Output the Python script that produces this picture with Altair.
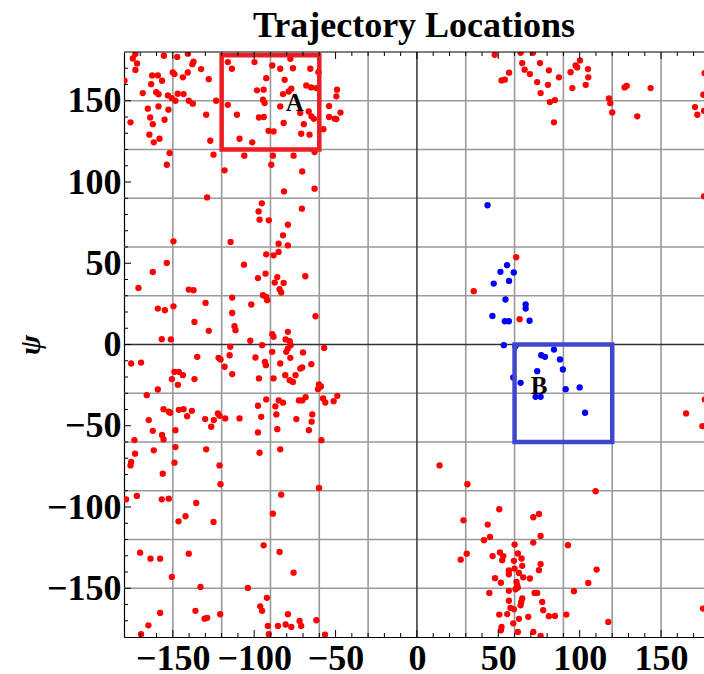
import altair as alt
import pandas as pd

# ---------------- data (phi, psi in degrees) ----------------
red_x = [
    -173, -174.6, -172, -173, -155.5, -147.3, -140.8, -137.3, -138, -132.6, -150, -149, -140.8, -143.8,
    -162.7, -159.2, -156.6, -163.3, -127.9, -179.7, -168.5, -160.2, -158.8, -153, -150.6, -148.4, -147,
    -143.4, -140.2, -137.7, -123.4, -165.4, -158.8, -152.7, -163.9, -162.3, -155.1, -176, -129.5, -164.4,
    -161.7, -158.2, -127, -152, -153.7, -125, -128.9, -149.6,
    -116.2, -113.7, -99.8, -88.9, -84, -77.8, -76.2, -65.5, -92.6, -81.3, -77.2, -78.8, -82.3, -94.2,
    -98.3, -116.2, -93.6, -94.6, -84, -68, -65, -61.8, -71.7, -66.5, -64.8, -69.5, -63.3, -110.6, -97.1,
    -94.1, -81.9, -91.2, -88.1, -71.1, -66, -109, -101.2, -106.1, -88.5, -75.8, -62.9, -89.5, -70.5,
    -118.2, -81.7, -62.9, -95.3, -97.3, -96.7, -91, -70.7, -79.3, -82.3, -114.5,
    -60.5, -49.1, -49.5, -54, -47, -54, -50.5, -49.5, -57.5, 47.8, 52, 54, 56.6,
    63.7, 71.3, 64.7, 66.2, 69.4, 75.6, 81.1, 73.9, 80.5, 76, 81.7, 84.8, 84.2, 87.3, 100.2, 97.5, 98.5,
    94.4, 105.1, 105.3, 103.7, 95.5, 118, 118.8, 120, 127.6, 128.9, 143.6, 135.4, 170.9, 172.3, 176,
    176.4, 176.8, 176.4,
    -85, -79.3, -92.6, -88.1, -85, -153.7, -162.3, -106.3, -97.7, -93, -85.8, -87.4, -81.9, -68.6, -84.4,
    -83.4, -171.1, -140.2, -137.3, -94.6, -92.6, -92, -113.5, -129.9, -159.2, -154.9, -149.6, -101.8,
    -113.5, -136.7, -112.1, -111.5, -127.9, -62.3, -88.9, -88.1, -79.3, -80.7, -78.2, -77.6, -102.4,
    -156.8, -151.2, -95.1, -114.7, -115.1, -79.3, -80.3, -88.9, -70, -135, -121.9, -120.7, -99.2, -77.8,
    -175.6, -169.5, -118.2, -93.4, -92.8, -84, -70.5, -71.7, -64.9, -113.5, -149, -146.3, -143.8, -150.6,
    -146.9, -136.7, -97.1, -88.1, -80.9, -74.6, -78.2, -76.2, -60.2, -60.8, -166, -159.2, -92.6, -87,
    -84.9, -82.3, -72.5, -70.5, -68.4, -97.7, -155.7, -152.5, -151.6, -146.3, -143.4, -138.3, -141.2,
    -122.3, -121.3, -130.1, -124.8, -126.4, -117.8, -109, -95.7, -86.4, -74.1, -64.3, -64.7, -164.8,
    -162.3, -156.6, -148.4, -97.7, -85.8, -66.4, -173.6, -155.7,
    -57, -59, -57.7, -56.3, -51.2, -48.9, -58.7, 34.9,
    61, 63.1, 165.4, 176.9, 175.4,
    -173.2, -175.6, -176, -161.7, -156.2, -148.4, -149, -129.5, -121.3, -120.7, -96.7, -84, -60.2, -178.7,
    -172.1, -156.8, -152.5, -135.6, -142.2, -146.5, -125, -83.4, -88.5, -170.1, -163.7, -157.8, -140.2,
    -150.6, -133, -94.2, -84.4, -75.8, -103.9, -92.2, -96.3, -95.1, -157.8, -136.1, -130.5, -128.9,
    -120.9, -165, -169.5, -91.6, -91, -85.4, -80.7, -77.2, -79.3, -72.1, -71.1, -61.8,
    13.9, 31, -56.5, 50.6, 28.6, 43.5, 44.9, 41.2, 30.6, 26.9, 46.5, 51, 53.1, 52.4, 56.5, 56.5, 48, 51.6,
    56.5, 44.5, 56.5, 50.6, 55.5, 52, 51.6,
    109.8, 71.5, 75, 76, 71.5, 60, 92.8, 62, 59.6, 64.3, 64.7, 60, 62.7, 65.3, 69.4, 61.2, 61.6, 62, 60.6,
    76, 75, 110.4, 105.3, 96.5, 72.3, 73.9, 64.7, 64.1, 63.7, 57.5, 59.6, 77, 77.6, 68.4, 81.1, 84.8,
    91.8, 62.7, 59.2, 62, 71.5, 76, 117.6, 175.8,
]
red_y = [
    178.7, 176, 173, 169, 177.7, 177, 179, 174, 172.5, 169.5, 167.4, 166.4, 167.4, 164.4,
    165.6, 165.6, 162.3, 160.2, 163.3, 162.3, 154.7, 155.3, 154, 153.3, 151.6, 150, 154.3,
    154.1, 150, 148.2, 150, 145.1, 146.5, 144.5, 139.7, 135.6, 138.3, 136.7, 141.4, 129.1,
    124.4, 126.6, 125.4, 117.8, 110.6, 116.8, 90.5, 63.5,
    173.8, 169.7, 173.8, 171.7, 169.7, 175.8, 170, 169.7, 163.9, 162.9, 157.4, 155.7, 154.1, 156.8,
    156.4, 147.5, 148.6, 150.6, 146.5, 159.4, 158.2, 157.8, 142.4, 143.4, 140.4, 135.6, 138.9, 141.4, 139.7,
    140, 136.3, 131.5, 131.1, 129.7, 129.1, 126.6, 124.4, 116.2, 116.2, 116.2, 118.4, 110.6, 106.5,
    107.2, 94.2, 95.9, 86.9, 81.9, 76.8, 76.4, 83.6, 73.7, 67.2, 63.1,
    167.6, 156.8, 152.7, 146.7, 142.7, 140, 139, 138.7, 132.5, 178.3, 162.5, 163, 167.3,
    179.5, 179.5, 173.2, 169.1, 166.4, 173.2, 168.7, 161.5, 159.8, 154.7, 149.2, 150.4, 136.7, 164.4, 174.8, 171.7, 170.5,
    167.6, 169.5, 164.4, 159.8, 157.8, 151.5, 148.5, 142.8, 158.2, 159.2, 157.8, 140.4, 146.1, 141.4, 153.7,
    143.8, 167, 91.2,
    62, 61, 55.5, 54.9, 57, 50.2, 44.6, 49.1, 40.9, 43.6, 41.5, 38.1, 37.9, 42, 34,
    32, 34.8, 33.8, 33.4, 30.3, 29.3, 27.3, 28.9, 25.6, 22.1, 21.1, 23.5, 24.6,
    19.4, 13.9, 11.3, 8.8, 8.4, 17.4, 6.4, 4.7, 7.8, 3.1, 2, -0.4, 2.3,
    3.3, 3.1, -0.4, -1.4, -6.6, -2.5, -4.5, -4.5, -4.9, -7.6, -8.2, -9.2, -8, -8.2,
    -11.7, -11.1, -13.7, -10.7, -12.7, -11.7, -14.1, -14.8, -12.1, -18.2, -16.8, -16.8, -18.9, -21.3,
    -24.8, -21.3, -20.9, -20.9, -18.9, -18.9, -22, -23, -24.6, -27.5, -31.2, -27.7, -33.8, -38.1,
    -34.4, -35.8, -34.4, -34.4, -32.4, -37.7, -39.8, -41.4, -42, -40.2, -39.8, -40.8, -44.1,
    -42.4, -43.9, -45.9, -46.5, -50.6, -45.5, -45.5, -44.5, -43, -45.9, -43, -47.5, -46.5,
    -53.1, -55.7, -52.7, -54.1, -52.1, -52.7, -58.8, -58.4,
    -2.1, -25.8, -33.2, -35.7, -34.9, -31.6, -58.9, 32.8,
    53.7, 15.6, -42.4, -33.8, -50.2,
    -67.2, -72.3, -74.4, -65.1, -79.5, -63.1, -72.7, -64.5, -74.4, -86, -66.6, -64.5, -88.3, -95.3,
    -93.2, -95.3, -94.9, -97.5, -105.7, -108.8, -109.2, -92.4, -104.1, -128.1, -131.8, -131.8, -128.7,
    -143, -149.2, -123.6, -127.7, -140.4, -149.8, -155.9, -161.1, -163.9, -165.2, -163.9, -168.7, -168.2,
    -166, -172.8, -178.3, -173.2, -178.3, -173.2, -172.3, -173.8, -166, -170.1, -173.2, -169.7,
    -74.4, -86, -178.5, -101.4, -108.2, -110.8, -118.4, -120.4, -128.7, -132.4, -130.2, -128, -130.2, -132.7, -139, -141.4, -143.8, -146.6,
    -151.6, -152.9, -157.7, -166.2, -165.9, -173.8, -175.9,
    -90.3, -106.3, -104.3, -117.8, -121.9, -123.1, -123.5, -128.6, -133.1, -131.7, -136.2, -137.9, -140.6, -143.3, -144, -146.1, -148.2, -149.6, -150.6,
    -135.1, -138.9, -138.5, -146.7, -151.8, -152.9, -152.9, -156.3, -158.4, -160.5, -162.1, -162.9, -158.4, -163.5, -167.6, -167.2, -167,
    -166.2, -168.8, -171.6, -176.9, -176.9, -179.3, -170.7, -162.5,
]
blue_x = [43.4, 55.4, 51.3, 47.2, 56.6, 54.4, 46.4, 54, 56.5, 53.4, 59.5, 66.8, 66.8, 69.2, 60.5, 84.2,
          76.4, 78.7, 87.9, 89.7, 73.9, 59.2, 63.7, 91.4, 100, 72.9, 76, 103.3]
blue_y = [85.7, 48.8, 44.7, 37.5, 39.1, 27.7, 17.6, 14.3, 14.3, -0.4, 44.3, 24.6, 22.1, 14.6, -1, -3.1,
          -6.6, -7.6, -9.2, -15.4, -16.4, -20.3, -23.6, -27.5, -26.4, -32.2, -32.2, -42]

grid_values = [-150, -120, -90, -60, -30, 30, 60, 90, 120, 150]
zero_values = [0]
label_values = [-150, -100, -50, 0, 50, 100, 150]
minor_values = [v for v in range(-170, 180, 10) if v % 50 != 0]

box_names = ["A", "B"]
box_x1 = [-120, 60]
box_x2 = [-60, 120]
box_y1 = [120, -60]
box_y2 = [178, 0]
box_label_x = [-75, 75]
box_label_y = [148.5, -25.5]

# ---------------- chart ----------------
W, H = 580, 585
SERIF = "Liberation Serif"
xs = alt.Scale(domain=[-180, 176.4], nice=False, zero=False)
ys = alt.Scale(domain=[-180, 180], nice=False, zero=False)

x_axis = alt.Axis(values=label_values, title=None, grid=False, ticks=False,
                  labelPadding=32, labelBaseline="alphabetic", labelFont=SERIF,
                  labelFontWeight="bold", labelFontSize=36, labelColor="black",
                  labelFlush=False, labelOverlap=False, domainColor="black",
                  domainWidth=1.2, format="d")
y_axis = alt.Axis(values=label_values, title="ψ", grid=False, ticks=False,
                  labelPadding=3, labelBaseline="middle", labelFont=SERIF,
                  labelFontWeight="bold", labelFontSize=36, labelColor="black",
                  labelFlush=False, labelOverlap=False, domainColor="black",
                  domainWidth=1.2, format="d",
                  titleFont=SERIF, titleFontSize=30, titleFontWeight="bold",
                  titleFontStyle="italic", titleColor="black", titleX=-94, titleY=H / 2,
                  titleAngle=270, titleAlign="center", titleBaseline="middle")


def X(field):
    return alt.X(field, type="quantitative", scale=xs, axis=x_axis)


def Y(field):
    return alt.Y(field, type="quantitative", scale=ys, axis=y_axis)


pts = pd.DataFrame({
    "phi": red_x + blue_x,
    "psi": red_y + blue_y,
    "set": ["red"] * len(red_x) + ["blue"] * len(blue_x),
})

points = alt.Chart(pts).mark_circle(size=40, opacity=1, clip=True).encode(
    x=X("phi"),
    y=Y("psi"),
    color=alt.Color("set:N", scale=alt.Scale(domain=["red", "blue"], range=["#FF0000", "#0000FF"]),
                    legend=None),
)

gdf = pd.DataFrame({"v": grid_values})
zdf = pd.DataFrame({"v": zero_values})
grid_x = alt.Chart(gdf).mark_rule(color="#999999", strokeWidth=1.6).encode(x=X("v"))
grid_y = alt.Chart(gdf).mark_rule(color="#999999", strokeWidth=1.6).encode(y=Y("v"))
zero_x = alt.Chart(zdf).mark_rule(color="#333333", strokeWidth=1.5).encode(x=X("v"))
zero_y = alt.Chart(zdf).mark_rule(color="#333333", strokeWidth=1.5).encode(y=Y("v"))

bdf = pd.DataFrame({"name": box_names, "x1": box_x1, "x2": box_x2, "y1": box_y1, "y2": box_y2,
                    "lx": box_label_x, "ly": box_label_y})
boxes = alt.Chart(bdf).mark_rect(fillOpacity=0, strokeWidth=4.5).encode(
    x=X("x1"), x2="x2:Q",
    y=Y("y1"), y2="y2:Q",
    stroke=alt.Stroke("name:N", scale=alt.Scale(domain=["A", "B"], range=["#ED1C24", "#3F48CC"]),
                      legend=None),
)
box_labels = alt.Chart(bdf).mark_text(font=SERIF, fontSize=25, fontWeight="bold", color="black",
                                      align="center", baseline="middle").encode(
    x=X("lx"), y=Y("ly"), text="name:N",
)

major_df = pd.DataFrame({"v": label_values})
minor_df = pd.DataFrame({"v": minor_values})
tick_layers = []
for df, ln in ((major_df, 7), (minor_df, 4)):
    tick_layers.append(alt.Chart(df).mark_rule(color="black", strokeWidth=1).encode(
        y=Y("v"), x=alt.value(0), x2=alt.value(ln)))
    tick_layers.append(alt.Chart(df).mark_rule(color="black", strokeWidth=1).encode(
        x=X("v"), y=alt.value(H), y2=alt.value(H - ln)))
    tick_layers.append(alt.Chart(df).mark_rule(color="black", strokeWidth=1).encode(
        x=X("v"), y=alt.value(0), y2=alt.value(ln)))

top_frame = alt.Chart(pd.DataFrame({"v": [180]})).mark_rule(color="black", strokeWidth=1.2).encode(
    y=Y("v"), x=alt.value(0), x2=alt.value(W))

chart = alt.layer(
    grid_x, grid_y, zero_x, zero_y, points, boxes, box_labels, *tick_layers, top_frame
).properties(
    width=W, height=H,
    title=alt.TitleParams("Trajectory Locations", font=SERIF, fontSize=36, fontWeight="bold",
                          color="black", anchor="middle", offset=15, baseline="alphabetic", dy=37),
    autosize=alt.AutoSizeParams(type="none"),
    padding={"left": 124, "top": 52, "right": 0, "bottom": 37},
).configure_view(stroke=None)

chart.save("out.html", embed_options={"renderer": "svg", "actions": False})
